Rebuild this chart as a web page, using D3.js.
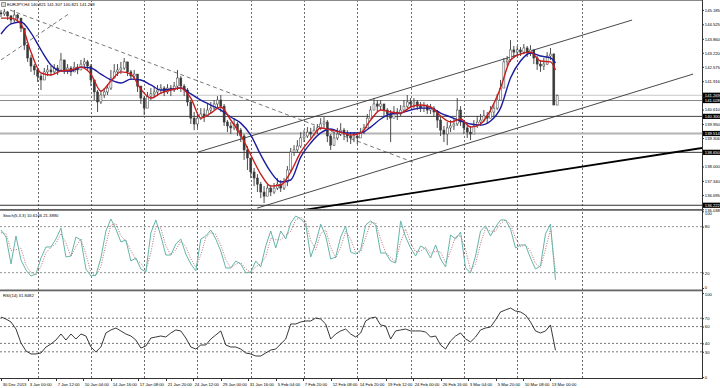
<!DOCTYPE html>
<html>
<head>
<meta charset="utf-8">
<script src="https://cdn.jsdelivr.net/npm/d3@7"></script>
<style>
body { margin: 0; background: #fff; }
svg { display: block; font-family: "Liberation Sans", Arial, sans-serif; }
</style>
</head>
<body>
<div id="chart"></div>
<script>
// EURJPY H4 candles, one candle per two H4 bars (open = previous close)
var firstOpen = 145.05
var closes = [145.00,145.09,144.91,144.72,144.95,144.81,144.35,143.57,142.98,142.61,
  142.43,142.15,141.97,142.34,142.43,142.34,142.52,142.43,142.89,142.43,
  142.52,142.34,142.56,142.43,142.70,142.80,142.61,141.97,141.42,140.96,
  141.28,141.42,141.60,142.06,142.34,142.43,142.52,142.80,142.34,142.15,
  142.24,141.69,141.14,140.68,141.23,141.33,141.42,141.51,141.60,141.42,
  141.60,141.51,141.69,142.06,141.69,141.51,140.96,140.22,139.95,140.22,
  140.41,140.32,140.59,140.68,140.87,141.05,140.77,140.04,139.86,139.77,
  139.95,139.67,139.40,138.76,138.39,137.75,137.47,137.19,136.83,136.64,
  137.01,136.83,137.01,137.19,137.01,137.29,137.84,138.66,138.76,138.94,
  139.31,139.40,139.58,139.49,139.67,139.77,139.95,140.04,139.40,138.98,
  139.31,139.49,139.67,139.49,139.40,139.31,139.40,139.31,139.58,139.77,
  140.22,140.59,140.87,140.77,140.87,140.59,140.41,140.22,140.50,140.41,
  140.59,140.77,140.96,140.87,140.96,140.77,140.68,140.77,140.59,140.68,
  140.50,140.13,139.67,139.49,139.77,139.86,139.95,140.59,140.04,139.77,
  139.58,139.49,139.86,140.04,140.13,140.32,140.22,140.50,140.68,141.05,
  141.60,142.80,142.89,143.35,143.25,143.35,143.25,143.44,143.25,143.35,
  142.98,142.70,142.61,142.70,143.07,143.16,140.82,141.27]
var highs = [145.18,145.23,145.14,144.95,145.18,145.00,144.81,144.35,143.62,143.12,
  142.70,142.52,142.24,142.52,142.66,142.61,142.70,142.66,143.21,142.89,
  142.70,142.61,142.80,142.70,142.89,142.98,142.89,142.70,141.97,141.51,
  141.51,141.60,141.78,142.43,142.70,142.70,142.80,142.98,142.80,142.43,
  142.43,142.24,141.69,141.23,141.42,141.60,141.69,141.74,141.78,141.69,
  141.78,141.74,141.88,142.43,142.15,141.78,141.60,141.05,140.50,140.50,
  140.68,140.68,140.87,140.96,141.05,141.23,141.28,140.87,140.13,140.04,
  140.22,140.04,139.77,139.49,138.94,138.39,137.93,137.65,137.29,137.10,
  137.19,137.15,137.24,137.47,137.38,137.47,138.02,138.85,138.98,139.21,
  139.58,139.67,139.81,139.77,139.86,139.95,140.22,140.27,140.13,139.49,
  139.58,139.77,139.99,139.77,139.67,139.58,139.58,139.58,139.77,139.95,
  140.41,140.77,141.14,141.05,141.05,140.87,140.68,140.59,140.77,140.68,
  140.82,141.05,141.28,141.14,141.14,141.05,140.96,140.96,140.87,140.87,
  140.77,140.59,140.32,139.86,140.04,140.13,140.22,141.14,140.77,140.13,
  139.95,139.86,140.13,140.32,140.41,140.59,140.50,140.77,140.87,141.33,
  141.97,142.98,143.07,143.80,143.53,143.53,143.48,143.62,143.53,143.57,
  143.35,143.07,142.89,142.98,143.25,143.44,143.20,141.31]
var lows = [144.86,144.91,144.72,144.54,144.63,144.63,144.17,143.35,142.80,142.34,
  142.20,141.88,141.51,141.97,142.15,142.15,142.24,142.20,142.52,142.24,
  142.24,142.15,142.34,142.24,142.43,142.52,142.43,141.69,141.05,140.50,
  140.87,141.14,141.28,141.51,142.06,142.15,142.24,142.43,142.15,141.97,
  141.97,141.42,140.87,140.36,140.68,141.05,141.14,141.23,141.33,141.23,
  141.33,141.23,141.42,141.51,141.42,141.23,140.77,139.95,139.67,139.77,
  140.13,140.04,140.32,140.41,140.59,140.68,140.50,139.86,139.58,139.49,
  139.67,139.40,139.12,138.30,137.84,137.47,137.10,136.83,136.55,136.32,
  136.64,136.64,136.74,136.92,136.83,136.92,137.10,137.75,138.48,138.66,
  138.85,139.12,139.31,139.31,139.40,139.49,139.67,139.77,139.12,138.76,
  138.94,139.21,139.40,139.21,139.12,139.03,139.12,139.03,139.31,139.49,
  139.77,140.22,140.59,140.50,140.59,140.32,140.13,139.12,140.22,140.13,
  140.32,140.50,140.68,140.68,140.68,140.59,140.50,140.50,140.41,140.41,
  140.32,139.77,139.40,139.12,138.98,139.58,139.67,139.86,139.86,139.49,
  139.31,139.21,139.49,139.77,139.86,140.04,139.95,140.22,140.32,140.59,
  141.05,141.60,142.61,142.80,142.98,143.07,143.07,143.16,143.02,143.07,
  142.70,142.43,142.34,142.43,142.66,142.89,140.82,140.82]

// moving averages, one value every 6 H4 bars
var maFast = [144.81,144.81,144.54,143.25,142.29,142.20,142.38,142.43,142.56,142.24,
  141.46,141.92,142.34,142.24,141.55,141.14,141.37,141.51,141.60,141.14,
  140.22,140.45,140.73,140.13,139.44,138.53,137.65,137.10,137.15,137.75,
  138.66,139.26,139.77,139.67,139.58,139.44,139.54,140.13,140.59,140.50,
  140.45,140.73,140.82,140.73,140.32,140.04,140.18,139.81,139.95,140.59,
  141.60,142.89,143.16,143.25,142.84,142.80,142.43]
var maSlow = [144.08,144.54,144.63,144.13,143.35,142.66,142.38,142.38,142.56,142.52,
  142.24,141.97,141.83,142.01,141.97,141.74,141.51,141.55,141.60,141.33,
  141.05,140.82,140.59,140.27,139.99,139.44,138.53,137.75,137.29,137.38,
  138.43,139.08,139.54,139.72,139.58,139.54,139.54,139.81,140.18,140.41,
  140.45,140.59,140.68,140.68,140.45,140.27,140.09,139.95,139.90,140.09,
  140.68,142.06,142.84,143.21,143.07,142.98,142.75]

// oscillators, one value every 3 H4 bars
var stochMain = [75.6,66.5,31.3,67.8,36.5,23.5,15.6,18.3,39.1,53.5,
  53.5,63.9,78.2,40.4,41.7,66.5,62.6,24.8,15.6,16.9,
  39.1,74.3,90.0,76.9,60.0,62.6,35.2,39.1,24.8,20.9,
  71.7,88.7,67.8,43.0,43.0,57.4,63.9,44.3,31.3,22.2,
  63.9,67.8,75.6,63.9,48.2,26.1,26.1,35.2,31.3,19.6,
  20.9,35.2,27.4,54.8,74.3,52.2,74.3,63.9,84.7,93.9,
  90.0,83.4,40.4,58.7,83.4,67.8,37.8,40.4,66.5,80.8,
  46.9,44.3,49.5,82.1,87.4,82.1,45.6,45.6,35.2,32.6,
  87.4,66.5,52.2,41.7,54.8,50.8,39.1,56.1,37.8,27.4,
  69.1,63.9,73.0,26.1,19.6,41.7,74.3,80.8,67.8,79.5,
  88.7,88.7,76.9,52.2,56.1,56.1,39.1,24.8,28.7,70.4,
  83.4,10.6]
var stochSignal = [72,71,49,50,52,30,20,17,28,46,
  53,58,71,59,41,54,64,44,20,16,
  28,57,82,84,68,61,49,37,32,23,
  46,80,78,55,43,50,61,54,38,27,
  43,66,72,70,56,37,26,31,33,25,
  20,28,31,41,65,63,63,69,74,89,
  92,87,62,50,71,76,53,39,53,74,
  64,46,47,66,85,85,64,46,40,34,
  60,77,59,47,48,53,45,48,47,33,
  48,67,68,50,23,31,58,78,74,74,
  84,89,83,65,54,56,48,32,27,50,
  77,21.39]
var rsi = [71.4,69.0,65.5,57.1,40.5,31.0,27.4,27.4,28.6,35.7,
  39.3,44.0,51.2,44.0,51.2,45.2,51.2,48.8,35.7,29.8,
  35.7,52.4,56.0,58.3,54.8,51.2,48.8,44.0,34.5,36.9,
  46.4,47.6,48.8,47.6,52.4,56.0,54.8,46.4,35.7,33.3,
  38.1,38.1,45.2,50.0,54.8,38.1,35.7,35.7,33.3,28.6,
  27.4,25.0,25.0,28.6,32.1,33.3,39.3,45.2,63.1,63.1,
  65.5,66.7,66.7,70.2,69.0,63.1,45.2,51.2,54.8,57.1,
  51.2,47.6,52.4,66.7,70.2,71.4,61.9,60.7,45.2,54.8,
  56.0,57.1,54.8,54.8,54.8,53.6,47.6,48.8,38.1,33.3,
  42.9,48.8,52.4,45.2,41.7,47.6,56.0,58.3,59.5,67.9,
  77.4,79.8,82.1,78.6,77.4,73.8,65.5,54.8,52.4,54.8,
  61.9,31.85]

// drawn objects: [bar, price] endpoints
var trendDashed = [[5.4, 145.18], [247.4, 138.20]]
var trendDashedUp = [[0, 142.89], [41.4, 145.04]]
var channelTop = [[118.3, 138.66], [379, 144.72]]
var channelBottom = [[153.8, 136.09], [415.6, 142.24]]
var supportLine = [[181.4, 136.00], [421, 138.85]]
var levels = [141.269, 141.028, 140.300, 139.514, 138.650, 136.222]

var priceTicks = [145.185, 144.525, 143.860, 143.220, 142.575, 141.916, 140.610, 139.950, 139.306, 138.000, 137.340, 136.695, 136.038]
var stochTicks = [100, 80, 20, 0]
var stochLevels = [80, 20]
var rsiTicks = [100, 70, 60, 40, 30, 0]
var rsiLevels = [70, 60, 40, 30]
var timeLabels = ["30 Dec 2013","3 Jan 00:00","7 Jan 12:00","10 Jan 04:00","14 Jan 16:00","17 Jan 08:00",
  "21 Jan 20:00","24 Jan 12:00","29 Jan 00:00","31 Jan 16:00","5 Feb 04:00","7 Feb 20:00","12 Feb 08:00",
  "14 Feb 20:00","19 Feb 12:00","24 Feb 00:00","26 Feb 16:00","3 Mar 04:00","5 Mar 20:00","10 Mar 08:00","13 Mar 00:00"]
var gridBars = [22, 54, 86, 118, 150, 182, 214, 246, 278, 310, 349]

var title = "EURJPY,H4  140.821 141.307 140.821 141.269"
var stochTitle = "Stoch(5,3,3) 10.6166 21.3890"
var rsiTitle = "RSI(14) 31.8482"

// layout
var width = 720, height = 388, plotRight = 702
var mainBot = 209, stTop = 210, stBot = 290, rsiTop = 291, rsiBot = 378
var fs = 4.2
var candleStep = 2, maStep = 6, oscStep = 3, labelStep = 16.5
var lastBar = 333

var x = d3.scaleLinear().domain([0, 421]).range([1, plotRight])
var y = d3.scaleLinear().domain([136.05, 145.64]).range([mainBot, 0])
var yS = d3.scaleLinear().domain([0, 100]).range([288, 211.3])
var yR = d3.scaleLinear().domain([0, 100]).range([377, 293])

var svg = d3.select("#chart").append("svg")
  .attr("width", width)
  .attr("height", height)

svg.append("rect").attr("width", width).attr("height", height).attr("fill", "#fff")

var defs = svg.append("defs")
function addClip(id, y0, y1) {
  defs.append("clipPath").attr("id", id).append("rect")
    .attr("x", 0).attr("y", y0).attr("width", plotRight).attr("height", y1 - y0)
}
addClip("clipMain", 0, mainBot)
addClip("clipSt", stTop, stBot)
addClip("clipRsi", rsiTop, rsiBot)

// vertical grid through all panels
svg.append("g").selectAll("line").data(gridBars).enter().append("line")
  .attr("x1", d => Math.round(x(d)) + 0.5).attr("x2", d => Math.round(x(d)) + 0.5)
  .attr("y1", 0).attr("y2", rsiBot)
  .attr("stroke", "#444").attr("stroke-width", 0.8).attr("stroke-dasharray", "2,2")

// main panel
var main = svg.append("g").attr("clip-path", "url(#clipMain)")

var levelColor = ["#c8c8c8", "#888", "#444", "#b4b4b4", "#333", "#333"]
var levelWidth = [1, 1, 1, 2, 1, 1]
main.selectAll(".lvl").data(levels).enter().append("line")
  .attr("x1", 0).attr("x2", plotRight)
  .attr("y1", d => y(d)).attr("y2", d => y(d))
  .attr("stroke", (d, i) => levelColor[i]).attr("stroke-width", (d, i) => levelWidth[i])

var pt = d3.line().x(d => x(d[0])).y(d => y(d[1]))
main.append("path").attr("d", pt(trendDashed)).attr("fill", "none")
  .attr("stroke", "#555").attr("stroke-width", 0.8).attr("stroke-dasharray", "4,3")
main.append("path").attr("d", pt(trendDashedUp)).attr("fill", "none")
  .attr("stroke", "#555").attr("stroke-width", 0.8).attr("stroke-dasharray", "4,3")
main.append("path").attr("d", pt(channelTop)).attr("fill", "none")
  .attr("stroke", "#333").attr("stroke-width", 0.9)
main.append("path").attr("d", pt(channelBottom)).attr("fill", "none")
  .attr("stroke", "#333").attr("stroke-width", 0.9)
main.append("path").attr("d", pt(supportLine)).attr("fill", "none")
  .attr("stroke", "#000").attr("stroke-width", 1.8)

// candles
var candles = closes.map(function (c, i) {
  return { bar: i * candleStep, o: i ? closes[i - 1] : firstOpen, h: highs[i], l: lows[i], c: c }
})
var cg = main.append("g")
cg.selectAll("line").data(candles).enter().append("line")
  .attr("x1", d => x(d.bar)).attr("x2", d => x(d.bar))
  .attr("y1", d => y(Math.max(d.h, d.o, d.c))).attr("y2", d => y(Math.min(d.l, d.o, d.c)))
  .attr("stroke", "#3a3a3a").attr("stroke-width", 0.9)
cg.selectAll("rect").data(candles).enter().append("rect")
  .attr("x", d => x(d.bar) - 1).attr("width", 2)
  .attr("y", d => y(Math.max(d.o, d.c)))
  .attr("height", d => Math.max(0.8, Math.abs(y(d.o) - y(d.c))))
  .attr("fill", d => d.c >= d.o ? "#fff" : "#3a3a3a")
  .attr("stroke", "#3a3a3a").attr("stroke-width", 0.5)

var maLine = d3.line()
  .x((d, i) => x(Math.min(i * maStep, lastBar)))
  .y(d => y(d))
  .curve(d3.curveMonotoneX)
main.append("path").attr("d", maLine(maSlow)).attr("fill", "none")
  .attr("stroke", "#1c1ca0").attr("stroke-width", 1.4)
main.append("path").attr("d", maLine(maFast)).attr("fill", "none")
  .attr("stroke", "#c81e1e").attr("stroke-width", 1.4)

// stochastic panel
var st = svg.append("g").attr("clip-path", "url(#clipSt)")
st.selectAll("line").data(stochLevels).enter().append("line")
  .attr("x1", 0).attr("x2", plotRight).attr("y1", d => yS(d)).attr("y2", d => yS(d))
  .attr("stroke", "#777").attr("stroke-width", 0.8).attr("stroke-dasharray", "2,2")
var oscX = (d, i) => x(i * oscStep)
st.append("path").attr("d", d3.line().x(oscX).y(d => yS(d))(stochSignal)).attr("fill", "none")
  .attr("stroke", "#b06060").attr("stroke-width", 0.9).attr("stroke-dasharray", "1,1.5")
st.append("path").attr("d", d3.line().x(oscX).y(d => yS(d))(stochMain)).attr("fill", "none")
  .attr("stroke", "#66b4aa").attr("stroke-width", 1)

// RSI panel
var rp = svg.append("g").attr("clip-path", "url(#clipRsi)")
rp.selectAll("line").data(rsiLevels).enter().append("line")
  .attr("x1", 0).attr("x2", plotRight).attr("y1", d => yR(d)).attr("y2", d => yR(d))
  .attr("stroke", "#555").attr("stroke-width", 0.8).attr("stroke-dasharray", "2,2")
rp.append("path").attr("d", d3.line().x(oscX).y(d => yR(d))(rsi)).attr("fill", "none")
  .attr("stroke", "#222").attr("stroke-width", 0.9)

// frames
svg.append("line").attr("x1", 0).attr("x2", plotRight).attr("y1", 0.5).attr("y2", 0.5).attr("stroke", "#888")
svg.append("rect").attr("x", 0).attr("y", mainBot).attr("width", plotRight).attr("height", 1.8).attr("fill", "#666")
svg.append("rect").attr("x", 0).attr("y", stBot - 0.5).attr("width", plotRight).attr("height", 1.8).attr("fill", "#666")
svg.append("line").attr("x1", 0).attr("x2", plotRight).attr("y1", rsiBot + 0.5).attr("y2", rsiBot + 0.5).attr("stroke", "#333")
svg.append("line").attr("x1", plotRight + 0.5).attr("x2", plotRight + 0.5).attr("y1", 0).attr("y2", rsiBot + 1).attr("stroke", "#333")

// right axes
function rightAxis(scale, ticks, fmt) {
  var g = svg.append("g").attr("transform", "translate(" + (plotRight + 0.5) + ",0)")
    .call(d3.axisRight(scale).tickValues(ticks).tickSize(1.5).tickPadding(0.8).tickFormat(fmt))
  g.select(".domain").remove()
  g.selectAll("text").attr("font-size", fs).attr("font-family", "Liberation Sans, Arial, sans-serif").attr("fill", "#000")
  g.selectAll("line").attr("stroke", "#333")
  return g
}
var pa = rightAxis(y, priceTicks, d3.format(".3f"))
pa.selectAll("text").filter(d => d === 136.038).attr("dy", "0.5em")
var sa = rightAxis(yS, stochTicks, d3.format("d"))
sa.selectAll("text").filter(d => d === 100).attr("dy", "0.85em")
sa.selectAll("text").filter(d => d === 0).attr("dy", "0.05em")
var ra = rightAxis(yR, rsiTicks, d3.format("d"))
ra.selectAll("text").filter(d => d === 100).attr("dy", "0.6em")

// highlighted price boxes
var boxes = svg.append("g").selectAll("g").data(levels).enter().append("g")
  .attr("transform", d => "translate(" + (plotRight + 1) + "," + y(d) + ")")
boxes.append("rect").attr("x", 0).attr("y", -2.6).attr("width", 17).attr("height", 5.2).attr("fill", "#000")
boxes.append("text").attr("x", 1.8).attr("y", 1.5).attr("font-size", fs).attr("fill", "#fff")
  .text(d => d3.format(".3f")(d))

// time axis
var tg = svg.append("g").selectAll("g").data(timeLabels).enter().append("g")
  .attr("transform", (d, i) => "translate(" + (Math.round(x(i * labelStep)) + 0.5) + "," + rsiBot + ")")
tg.append("line").attr("y1", 0).attr("y2", 3).attr("stroke", "#333")
tg.append("text").attr("x", 1.2).attr("y", 7.5).attr("font-size", fs).attr("fill", "#000").text(d => d)

// panel captions
svg.append("path").attr("d", "M1.5,2.5h4v4h-4z").attr("fill", "#ddd").attr("stroke", "#555").attr("stroke-width", 0.6)
svg.append("text").attr("x", 7).attr("y", 6.2).attr("font-size", fs).attr("fill", "#000").text(title)
svg.append("text").attr("x", 3).attr("y", 216.5).attr("font-size", fs).attr("fill", "#000").text(stochTitle)
svg.append("text").attr("x", 3).attr("y", 296.5).attr("font-size", fs).attr("fill", "#000").text(rsiTitle)
</script>
</body>
</html>
